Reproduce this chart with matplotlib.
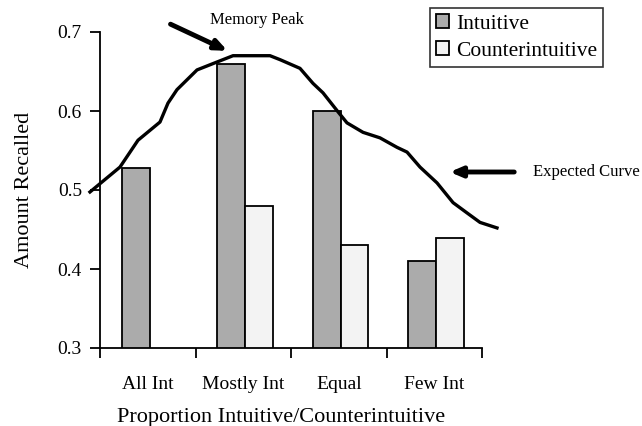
import matplotlib
matplotlib.use("Agg")
import matplotlib.pyplot as plt
import numpy as np

categories = ["All Int", "Mostly Int", "Equal", "Few Int"]
intuitive = [0.528, 0.659, 0.600, 0.410]
counterintuitive = [np.nan, 0.480, 0.430, 0.439]

curve_x = [-0.605, -0.291, -0.102, 0.128, 0.212, 0.306, 0.516, 0.725, 0.893,
           1.280, 1.385, 1.594, 1.730, 1.835, 1.992, 2.086, 2.254, 2.432,
           2.610, 2.715, 2.851, 3.029, 3.197, 3.343, 3.479, 3.657]
curve_y = [0.4975, 0.529, 0.563, 0.586, 0.610, 0.627, 0.652, 0.662, 0.670,
           0.670, 0.665, 0.654, 0.635, 0.623, 0.599, 0.585, 0.573, 0.566,
           0.554, 0.548, 0.529, 0.509, 0.484, 0.471, 0.459, 0.452]

plt.rcParams['font.family'] = ['Liberation Serif', 'DejaVu Serif']

fig = plt.figure(figsize=(6.42, 4.26), dpi=100)
ax = fig.add_axes([100/642, (426-348)/426, 382/642, 316/426])

x = np.arange(len(categories))
w = 0.29
ax.bar(x - w/2 + 0.02, intuitive, w, color="#ababab", edgecolor="black",
       linewidth=1.3, label="Intuitive", zorder=2)
ax.bar(x + w/2 + 0.02, counterintuitive, w, color="#f3f3f3", edgecolor="black",
       linewidth=1.3, label="Counterintuitive", zorder=2)

ax.plot(curve_x, curve_y, color="black", lw=2.4, clip_on=False, zorder=3,
        solid_joinstyle="round")

ax.set_xlim(-0.5, 3.5)
ax.set_ylim(0.3, 0.7)
ax.set_yticks([0.3, 0.4, 0.5, 0.6, 0.7])
ax.set_yticklabels(["0.3", "0.4", "0.5", "0.6", "0.7"], fontsize=14)
ax.set_xticks([-0.5, 0.5, 1.5, 2.5, 3.5])
ax.set_xticklabels([])
ax.set_xticks(x, minor=True)
ax.set_xticklabels(categories, minor=True, fontsize=14)
ax.tick_params(axis="x", which="minor", length=0, pad=20)
ax.tick_params(axis="x", which="major", length=7, width=1.3, direction="out")
ax.tick_params(axis="y", length=7, width=1.3, direction="out", pad=6)
for s in ["top", "right"]:
    ax.spines[s].set_visible(False)
for s in ["left", "bottom"]:
    ax.spines[s].set_linewidth(1.3)

ax.set_xlabel("Proportion Intuitive/Counterintuitive", fontsize=16, labelpad=12)
ax.xaxis.set_label_coords(0.475, -0.19)
ax.set_ylabel("Amount Recalled", fontsize=16, labelpad=17)

leg = ax.legend(loc="upper left", bbox_to_anchor=(430/642, 1 - 8/426),
                bbox_transform=fig.transFigure, frameon=True, fancybox=False,
                edgecolor="black", fontsize=15.5, handlelength=0.6,
                handleheight=0.6, handletextpad=0.3, borderpad=0.3,
                labelspacing=0.35, borderaxespad=0)
leg.get_frame().set_linewidth(1.2)

# annotations
fig.text(257/642, 1 - 20/426, "Memory Peak", fontsize=12, ha="center", va="center")
ax.annotate("", xy=(230/642, 1 - 52/426), xycoords="figure fraction",
            xytext=(168/642, 1 - 23/426), textcoords="figure fraction",
            arrowprops=dict(arrowstyle="-|>,head_length=0.7,head_width=0.3",
                            color="black", lw=3.5))
ax.annotate("", xy=(447/642, 1 - 172/426), xycoords="figure fraction",
            xytext=(517/642, 1 - 172/426), textcoords="figure fraction",
            arrowprops=dict(arrowstyle="-|>,head_length=0.7,head_width=0.3",
                            color="black", lw=3.5))
fig.text(533/642, 1 - 172/426, "Expected Curve", fontsize=12, ha="left", va="center")

fig.savefig("out.png", dpi=100)
